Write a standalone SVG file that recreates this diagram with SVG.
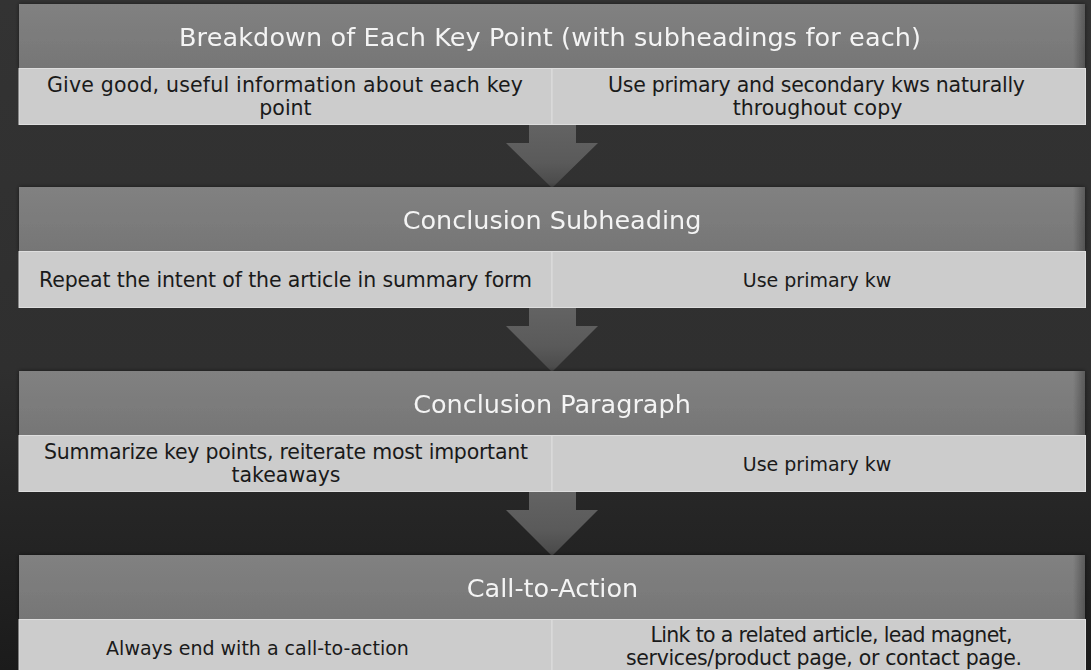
<svg xmlns="http://www.w3.org/2000/svg" width="1091" height="670" viewBox="0 0 1091 670">
<defs>
<linearGradient id="bg" x1="0" y1="0" x2="0" y2="1">
<stop offset="0" stop-color="#333333"/>
<stop offset="0.55" stop-color="#2f2f2f"/>
<stop offset="1" stop-color="#1b1b1b"/>
</linearGradient>
<linearGradient id="hdr" x1="0" y1="0" x2="0" y2="1">
<stop offset="0" stop-color="#818181"/>
<stop offset="1" stop-color="#767676"/>
</linearGradient>
<linearGradient id="hdrEdge" x1="0" y1="0" x2="1" y2="0">
<stop offset="0" stop-color="#000" stop-opacity="0"/>
<stop offset="1" stop-color="#000" stop-opacity="0.3"/>
</linearGradient>
<linearGradient id="arr" x1="0" y1="0" x2="0" y2="1">
<stop offset="0" stop-color="#636363"/>
<stop offset="0.6" stop-color="#5a5a5a"/>
<stop offset="1" stop-color="#484848"/>
</linearGradient>
<filter id="sh" x="-5%" y="-20%" width="110%" height="140%">
<feGaussianBlur in="SourceAlpha" stdDeviation="2"/>
<feComponentTransfer><feFuncA type="linear" slope="0.5"/></feComponentTransfer>
<feMerge><feMergeNode/><feMergeNode in="SourceGraphic"/></feMerge>
</filter>
</defs>
<style>
.hdr{fill:url(#hdr)}
.edge{fill:url(#hdrEdge)}
.cell{fill:#cccccc;stroke:#dedede;stroke-width:1}
.ht{font-family:"DejaVu Sans","Liberation Sans",sans-serif;font-size:25.5px;fill:#f4f4f4;text-anchor:middle}
.ct{font-family:"DejaVu Sans","Liberation Sans",sans-serif;font-size:20.5px;fill:#1a1a1a;text-anchor:middle}
.sm{font-size:19px}
.arrow{fill:url(#arr)}
</style>
<rect x="0" y="0" width="1091" height="670" fill="url(#bg)"/>

<g id="connectors">
<polygon class="arrow" points="529,125 576,125 576,143 598,143 552,188 506,143 529,143"/>
<polygon class="arrow" points="529,308 576,308 576,326 598,326 552,372 506,326 529,326"/>
<polygon class="arrow" points="529,492 576,492 576,510 598,510 552,556 506,510 529,510"/>
</g>

<g id="block1-header" filter="url(#sh)">
<rect class="hdr" x="19" y="4" width="1066" height="64"/>
<rect class="edge" x="1073" y="4" width="12" height="64"/>
<text class="ht" x="550" y="46" textLength="742">Breakdown of Each Key Point (with subheadings for each)</text>
</g>
<g id="block1-left">
<rect class="cell" x="19" y="68.5" width="533" height="56"/>
<text class="ct" x="285" y="92" textLength="476">Give good, useful information about each key</text>
<text class="ct" x="285.5" y="115">point</text>
</g>
<g id="block1-right">
<rect class="cell" x="552" y="68.5" width="533.5" height="56"/>
<text class="ct" x="816.5" y="92" textLength="417">Use primary and secondary kws naturally</text>
<text class="ct" x="817.5" y="115">throughout copy</text>
</g>

<g id="block2-header" filter="url(#sh)">
<rect class="hdr" x="19" y="187" width="1066" height="64"/>
<rect class="edge" x="1073" y="187" width="12" height="64"/>
<text class="ht" x="552" y="229">Conclusion Subheading</text>
</g>
<g id="block2-left">
<rect class="cell" x="19" y="251.5" width="533" height="56"/>
<text class="ct" x="285.5" y="287" textLength="493">Repeat the intent of the article in summary form</text>
</g>
<g id="block2-right">
<rect class="cell" x="552" y="251.5" width="533.5" height="56"/>
<text class="ct sm" x="817" y="287">Use primary kw</text>
</g>

<g id="block3-header" filter="url(#sh)">
<rect class="hdr" x="19" y="371" width="1066" height="64"/>
<rect class="edge" x="1073" y="371" width="12" height="64"/>
<text class="ht" x="552" y="413">Conclusion Paragraph</text>
</g>
<g id="block3-left">
<rect class="cell" x="19" y="435.5" width="533" height="56"/>
<text class="ct" x="286" y="459" textLength="484">Summarize key points, reiterate most important</text>
<text class="ct" x="286" y="482">takeaways</text>
</g>
<g id="block3-right">
<rect class="cell" x="552" y="435.5" width="533.5" height="56"/>
<text class="ct sm" x="817" y="471">Use primary kw</text>
</g>

<g id="block4-header" filter="url(#sh)">
<rect class="hdr" x="19" y="555" width="1066" height="64"/>
<rect class="edge" x="1073" y="555" width="12" height="64"/>
<text class="ht" x="552.5" y="597">Call-to-Action</text>
</g>
<g id="block4-left">
<rect class="cell" x="19" y="619.5" width="533" height="56"/>
<text class="ct sm" x="257.5" y="655">Always end with a call-to-action</text>
</g>
<g id="block4-right">
<rect class="cell" x="552" y="619.5" width="533.5" height="56"/>
<text class="ct" x="831.5" y="642" textLength="362">Link to a related article, lead magnet,</text>
<text class="ct" x="824" y="665" textLength="396">services/product page, or contact page.</text>
</g>
</svg>
